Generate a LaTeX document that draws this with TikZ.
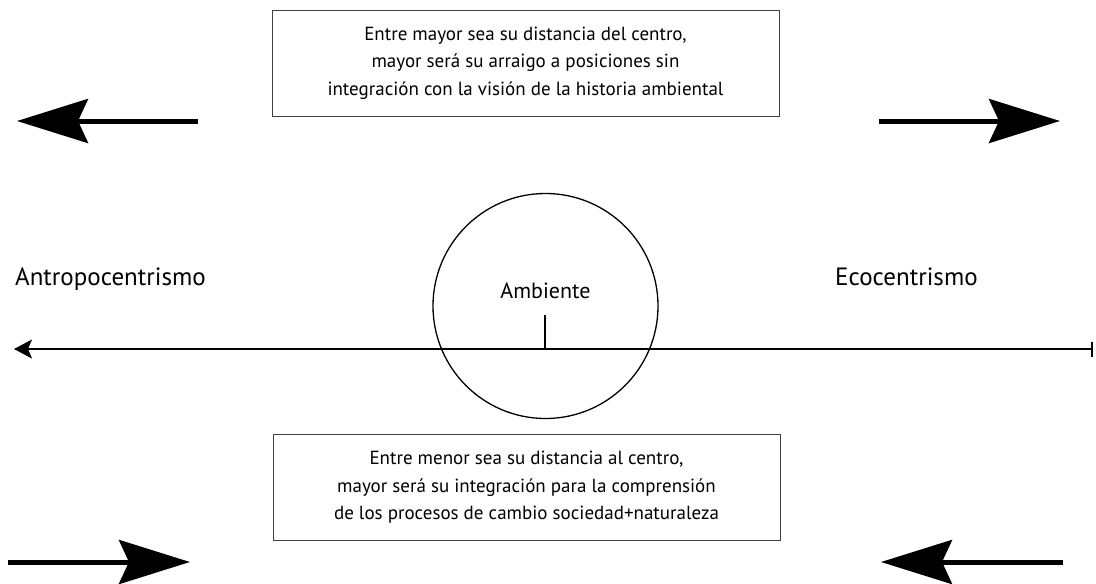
\documentclass[tikz,border=0pt]{standalone}
\usepackage{fontspec}
\setmainfont{PT Sans}
\usetikzlibrary{arrows.meta}
\tikzset{
  txtbox/.style={draw=black!75, line width=0.9pt, minimum width=507pt, minimum height=106pt, align=center, inner sep=0pt, font=\fontsize{19}{27.5}\selectfont},
  bigarrow/.style={line width=5pt, -{Stealth[length=71pt,width=44pt,inset=10pt]}},
  axisline/.style={line width=1.4pt, {Stealth[length=18pt,width=19pt,inset=4pt]}-{Bar[width=15pt,line width=2.5pt]}},
  sidelabel/.style={font=\fontsize{25}{30}\selectfont, anchor=base west, inner sep=0pt},
}
\begin{document}
\begin{tikzpicture}[x=1pt,y=-1pt]
\useasboundingbox (0,0) rectangle (1096,584);
% boxes
\node[txtbox] (top) at (525.5,63) {Entre mayor sea su distancia del centro,\\mayor será su arraigo a posiciones sin\\integración con la visión de la historia ambiental};
\node[txtbox] (bot) at (526.5,487.5) {Entre menor sea su distancia al centro,\\mayor será su integración para la comprensión\\de los procesos de cambio sociedad+naturaleza};
% circle
\node[draw, circle, line width=1.3pt, minimum size=225pt, inner sep=0pt] (amb) at (545.5,306) {};
\node[font=\fontsize{22}{26}\selectfont, anchor=base, inner sep=0pt] (ambl) at (545.5,298) {Ambiente};
% axis
\coordinate (axL) at (14,349);
\coordinate (axR) at (1093,349);
\coordinate (tickB) at (545,349);
\coordinate (tickT) at (545,315);
\draw[axisline] (axL) -- (axR);
\draw[line width=1.4pt] (tickB) -- (tickT);
% side labels
\node[sidelabel] (antro) at (15,285) {Antropocentrismo};
\node[sidelabel] (eco) at (835,285) {Ecocentrismo};
% big arrows
\coordinate (a1s) at (198,121); \coordinate (a1e) at (17,121);
\coordinate (a2s) at (879,121); \coordinate (a2e) at (1060,121);
\coordinate (a3s) at (8,562); \coordinate (a3e) at (190,562);
\coordinate (a4s) at (1063,562); \coordinate (a4e) at (881,562);
\draw[bigarrow] (a1s) -- (a1e);
\draw[bigarrow] (a2s) -- (a2e);
\draw[bigarrow] (a3s) -- (a3e);
\draw[bigarrow] (a4s) -- (a4e);
\end{tikzpicture}
\end{document}
